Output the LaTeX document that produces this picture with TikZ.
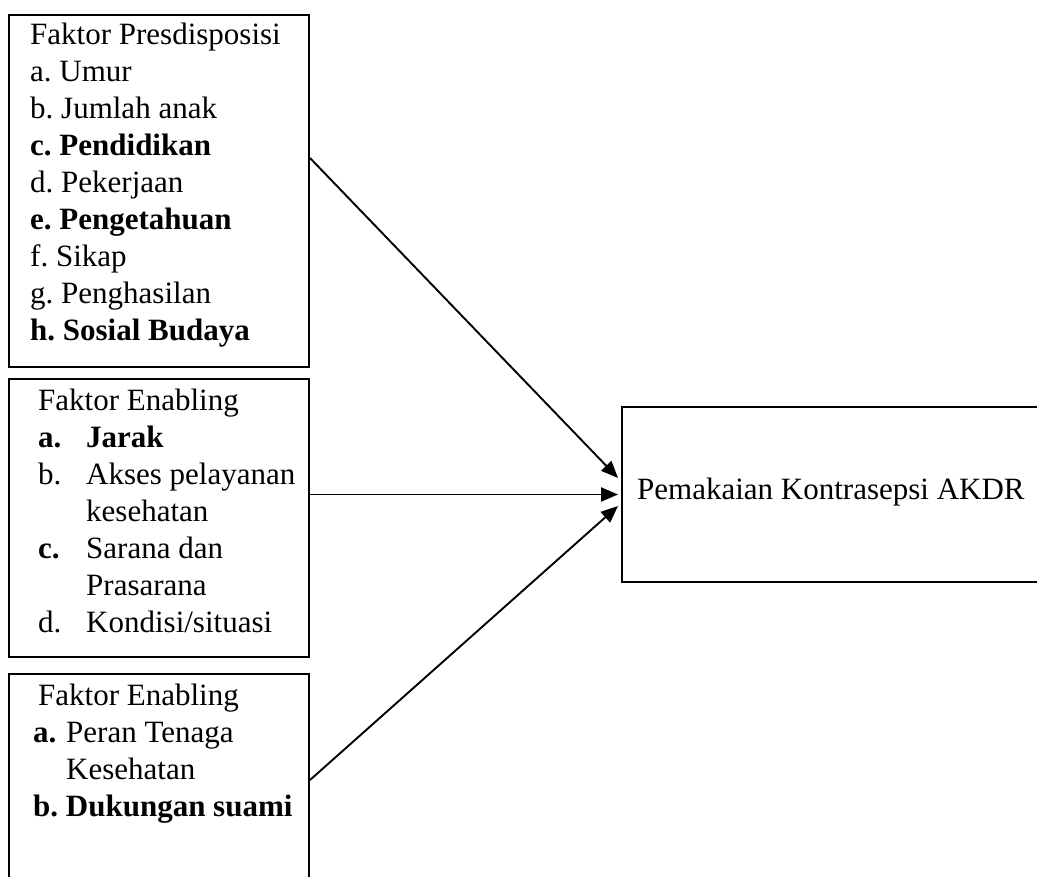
\documentclass[tikz,border=0pt]{standalone}
\usepackage{fontspec}
\setmainfont{Liberation Serif}
\usetikzlibrary{arrows.meta}
\begin{document}
\frenchspacing
\begin{tikzpicture}[x=1pt,y=-1pt,
  box/.style={draw,line width=2pt,inner sep=0pt},
  ln/.style={anchor=base west,inner sep=0pt,font=\fontsize{31}{37}\selectfont},
  conn/.style={line width=1.9pt,-{Triangle[length=17pt,width=14pt]}}]
\useasboundingbox (0,0) rectangle (1037,877);
\clip (0,0) rectangle (1037,877);
% boxes
\node[box,minimum width=300pt,minimum height=352pt] (b1) at (159,191) {};
\node[box,minimum width=300pt,minimum height=278pt] (b2) at (159,518) {};
\node[box,minimum width=300pt,minimum height=230pt] (b3) at (159,789) {};
\node[box,minimum width=440pt,minimum height=175pt] (rb) at (842,494.5) {};
% box 1 text
\node[ln] (p0) at (30,45) {Faktor Presdisposisi};
\node[ln] (p1) at (30,82) {a. Umur};
\node[ln] (p2) at (30,119) {b. Jumlah anak};
\node[ln] (p3) at (30,156) {\bfseries c. Pendidikan};
\node[ln] (p4) at (30,193) {d. Pekerjaan};
\node[ln] (p5) at (30,230) {\bfseries e. Pengetahuan};
\node[ln] (p6) at (30,267) {f. Sikap};
\node[ln] (p7) at (30,304) {g. Penghasilan};
\node[ln] (p8) at (30,341) {\bfseries h. Sosial Budaya};
% box 2 text
\node[ln] (e0) at (38,410) {Faktor Enabling};
\node[ln] (e1a) at (38,447) {\bfseries a.};
\node[ln] (e1b) at (86,447) {\bfseries Jarak};
\node[ln] (e2a) at (38,484) {b.};
\node[ln] (e2b) at (86,484) {Akses pelayanan};
\node[ln] (e3b) at (86,521) {kesehatan};
\node[ln] (e4a) at (38,558) {\bfseries c.};
\node[ln] (e4b) at (86,558) {Sarana dan};
\node[ln] (e5b) at (86,595) {Prasarana};
\node[ln] (e6a) at (38,632) {d.};
\node[ln] (e6b) at (86,632) {Kondisi/situasi};
% box 3 text
\node[ln] (r0) at (38,705) {Faktor Enabling};
\node[ln] (r1a) at (33,742) {\bfseries a.};
\node[ln] (r1b) at (66,742) {Peran Tenaga};
\node[ln] (r2b) at (66,779) {Kesehatan};
\node[ln] (r3) at (33,816) {\bfseries b. Dukungan suami};
% right box text
\node[ln] (t0) at (637,500) {Pemakaian Kontrasepsi AKDR};
% connectors
\coordinate (s1) at (b1.east |- 0,158);
\coordinate (s3) at (b3.east |- 0,780);
\coordinate (t1) at (rb.west |- 0,478);
\coordinate (t3) at (rb.west |- 0,506);
\draw[conn] (s1) -- ([xshift=-3pt]t1);
\draw[conn] (b2.east |- rb.west) -- ([xshift=-3pt]rb.west);
\draw[conn] (s3) -- ([xshift=-3pt]t3);
\end{tikzpicture}
\end{document}
